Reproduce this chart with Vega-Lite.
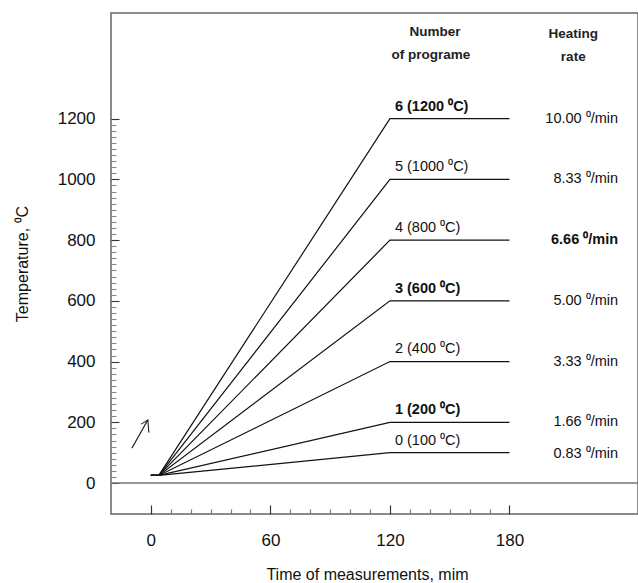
{
  "$schema": "https://vega.github.io/schema/vega-lite/v6.json",
  "width": 527,
  "height": 501,
  "autosize": {"type": "none"},
  "padding": {"left": 111, "top": 13, "right": 0, "bottom": 69},
  "background": "white",
  "config": {
    "view": {"stroke": "#666666", "strokeWidth": 1.5},
    "font": "Liberation Sans",
    "axis": {"grid": false, "domain": false, "labelOverlap": false, "labelFont": "Liberation Sans", "titleFont": "Liberation Sans", "labelColor": "#111111", "titleColor": "#111111", "titleFontWeight": "normal"}
  },
  "datasets": {
    "lines": [
      {"program": 0, "t": 0, "T": 25}, {"program": 0, "t": 4, "T": 25}, {"program": 0, "t": 120, "T": 100}, {"program": 0, "t": 180, "T": 100},
      {"program": 1, "t": 0, "T": 25}, {"program": 1, "t": 4, "T": 25}, {"program": 1, "t": 120, "T": 200}, {"program": 1, "t": 180, "T": 200},
      {"program": 2, "t": 0, "T": 25}, {"program": 2, "t": 4, "T": 25}, {"program": 2, "t": 120, "T": 400}, {"program": 2, "t": 180, "T": 400},
      {"program": 3, "t": 0, "T": 25}, {"program": 3, "t": 4, "T": 25}, {"program": 3, "t": 120, "T": 600}, {"program": 3, "t": 180, "T": 600},
      {"program": 4, "t": 0, "T": 25}, {"program": 4, "t": 4, "T": 25}, {"program": 4, "t": 120, "T": 800}, {"program": 4, "t": 180, "T": 800},
      {"program": 5, "t": 0, "T": 25}, {"program": 5, "t": 4, "T": 25}, {"program": 5, "t": 120, "T": 1000}, {"program": 5, "t": 180, "T": 1000},
      {"program": 6, "t": 0, "T": 25}, {"program": 6, "t": 4, "T": 25}, {"program": 6, "t": 120, "T": 1200}, {"program": 6, "t": 180, "T": 1200}
    ],
    "programLabels": [
      {"t": 122.5, "T": 140, "label": "0 (100 ⁰C)", "bold": false},
      {"t": 122.5, "T": 240, "label": "1 (200 ⁰C)", "bold": true},
      {"t": 122.5, "T": 440, "label": "2 (400 ⁰C)", "bold": false},
      {"t": 122.5, "T": 640, "label": "3 (600 ⁰C)", "bold": true},
      {"t": 122.5, "T": 840, "label": "4 (800 ⁰C)", "bold": false},
      {"t": 122.5, "T": 1040, "label": "5 (1000 ⁰C)", "bold": false},
      {"t": 122.5, "T": 1240, "label": "6 (1200 ⁰C)", "bold": true}
    ],
    "rates": [
      {"t": 234.5, "T": 95, "label": "0.83 ⁰/min", "bold": false},
      {"t": 234.5, "T": 200, "label": "1.66 ⁰/min", "bold": false},
      {"t": 234.5, "T": 400, "label": "3.33 ⁰/min", "bold": false},
      {"t": 234.5, "T": 600, "label": "5.00 ⁰/min", "bold": false},
      {"t": 234.5, "T": 800, "label": "6.66 ⁰/min", "bold": true},
      {"t": 234.5, "T": 1000, "label": "8.33 ⁰/min", "bold": false},
      {"t": 234.5, "T": 1200, "label": "10.00 ⁰/min", "bold": false}
    ],
    "headers": [
      {"t": 142.6, "T": 1486, "label": "Number"},
      {"t": 140.5, "T": 1410, "label": "of programe"},
      {"t": 212, "T": 1479, "label": "Heating"},
      {"t": 212, "T": 1404, "label": "rate"}
    ],
    "arrow": [
      {"part": "shaft", "i": 0, "t": -9.5, "T": 115},
      {"part": "shaft", "i": 1, "t": -1.5, "T": 208},
      {"part": "head", "i": 0, "t": -4.8, "T": 194},
      {"part": "head", "i": 1, "t": -1.5, "T": 208},
      {"part": "head", "i": 2, "t": -1.0, "T": 166}
    ],
    "zero": [{"T": 0}]
  },
  "layer": [
    {
      "data": {"name": "zero"},
      "mark": {"type": "rule", "color": "#777777", "strokeWidth": 1.5},
      "encoding": {
        "y": {
          "field": "T", "type": "quantitative",
          "scale": {"domain": [-102, 1548], "nice": false, "zero": false},
          "axis": {
            "values": [0, 20, 40, 60, 80, 100, 120, 140, 160, 180, 200, 220, 240, 260, 280, 300, 320, 340, 360, 380, 400, 420, 440, 460, 480, 500, 520, 540, 560, 580, 600, 620, 640, 660, 680, 700, 720, 740, 760, 780, 800, 820, 840, 860, 880, 900, 920, 940, 960, 980, 1000, 1020, 1040, 1060, 1080, 1100, 1120, 1140, 1160, 1180, 1200],
            "tickCount": 200,
            "labelExpr": "datum.value % 200 === 0 ? datum.label : ''",
            "format": "d",
            "tickSize": {"condition": {"test": "datum.value % 200 === 0", "value": -8}, "value": -5},
            "tickColor": {"condition": {"test": "datum.value % 200 === 0", "value": "#333333"}, "value": "#888888"},
            "tickWidth": 1.1,
            "labelPadding": 24,
            "labelFontSize": 17,
            "title": "Temperature, ⁰C",
            "titleFontSize": 16,
            "titlePadding": 27
          }
        }
      }
    },
    {
      "data": {"name": "lines"},
      "mark": {"type": "line", "color": "#111111", "strokeWidth": 1.2},
      "encoding": {
        "x": {
          "field": "t", "type": "quantitative",
          "scale": {"domain": [-20, 244.5], "nice": false, "zero": false},
          "axis": {
            "values": [0, 10, 20, 30, 40, 50, 60, 70, 80, 90, 100, 110, 120, 130, 140, 150, 160, 170, 180],
            "tickCount": 200,
            "labelExpr": "datum.value % 60 === 0 ? datum.label : ''",
            "tickSize": {"condition": {"test": "datum.value % 60 === 0", "value": -9}, "value": -5},
            "tickColor": {"condition": {"test": "datum.value % 60 === 0", "value": "#333333"}, "value": "#777777"},
            "tickWidth": 1.2,
            "labelPadding": 27,
            "labelFontSize": 17,
            "title": "Time of measurements, mim",
            "titleFontSize": 16,
            "titlePadding": 14,
            "titleX": 256
          }
        },
        "y": {"field": "T", "type": "quantitative"},
        "detail": {"field": "program"},
        "order": {"field": "t"}
      }
    },
    {
      "data": {"name": "arrow"},
      "mark": {"type": "line", "color": "#222222", "strokeWidth": 1.1},
      "encoding": {
        "x": {"field": "t", "type": "quantitative"},
        "y": {"field": "T", "type": "quantitative"},
        "detail": {"field": "part"},
        "order": {"field": "i"}
      }
    },
    {
      "data": {"name": "programLabels"},
      "transform": [{"filter": "!datum.bold"}],
      "mark": {"type": "text", "align": "left", "baseline": "middle", "fontSize": 14.5, "color": "#111111"},
      "encoding": {
        "x": {"field": "t", "type": "quantitative"},
        "y": {"field": "T", "type": "quantitative"},
        "text": {"field": "label"}
      }
    },
    {
      "data": {"name": "programLabels"},
      "transform": [{"filter": "datum.bold"}],
      "mark": {"type": "text", "align": "left", "baseline": "middle", "fontSize": 14.5, "fontWeight": "bold", "color": "#111111"},
      "encoding": {
        "x": {"field": "t", "type": "quantitative"},
        "y": {"field": "T", "type": "quantitative"},
        "text": {"field": "label"}
      }
    },
    {
      "data": {"name": "rates"},
      "transform": [{"filter": "!datum.bold"}],
      "mark": {"type": "text", "align": "right", "baseline": "middle", "fontSize": 14.5, "color": "#111111"},
      "encoding": {
        "x": {"field": "t", "type": "quantitative"},
        "y": {"field": "T", "type": "quantitative"},
        "text": {"field": "label"}
      }
    },
    {
      "data": {"name": "rates"},
      "transform": [{"filter": "datum.bold"}],
      "mark": {"type": "text", "align": "right", "baseline": "middle", "fontSize": 14.5, "fontWeight": "bold", "color": "#111111"},
      "encoding": {
        "x": {"field": "t", "type": "quantitative"},
        "y": {"field": "T", "type": "quantitative"},
        "text": {"field": "label"}
      }
    },
    {
      "data": {"name": "headers"},
      "mark": {"type": "text", "align": "center", "baseline": "middle", "fontSize": 13.5, "fontWeight": "bold", "color": "#222222"},
      "encoding": {
        "x": {"field": "t", "type": "quantitative"},
        "y": {"field": "T", "type": "quantitative"},
        "text": {"field": "label"}
      }
    }
  ]
}
